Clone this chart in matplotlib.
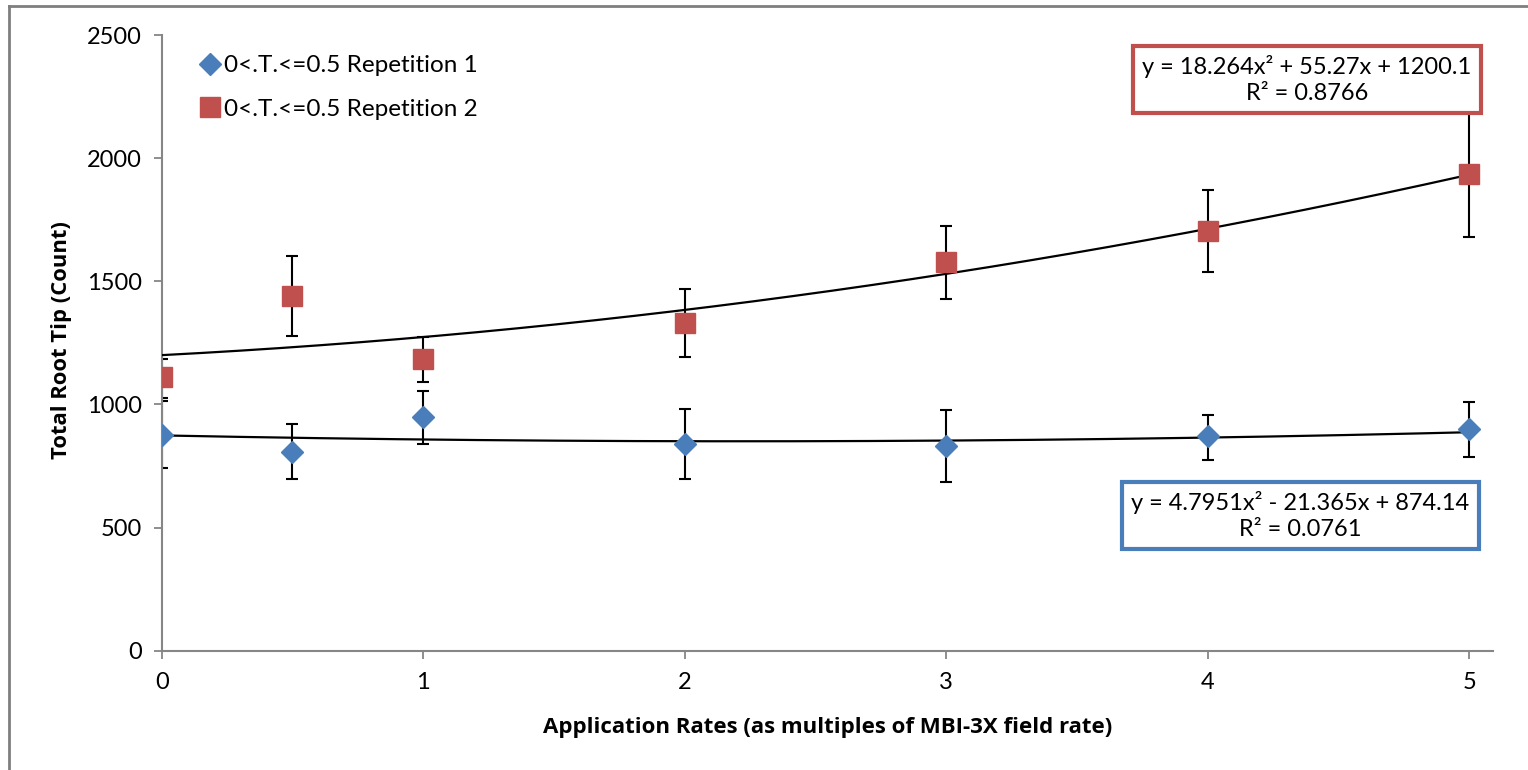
import numpy as np
import matplotlib
matplotlib.use("Agg")
import matplotlib.pyplot as plt
from matplotlib.lines import Line2D

# ---- data ----
x_rates = [0, 0.5, 1, 2, 3, 4, 5]

rep1_mean = [876, 808, 949, 839, 831, 870, 900]
rep1_upper = [1012, 920, 1053, 981, 976, 958, 1011]
rep1_lower = [741, 697, 840, 697, 683, 775, 785]

rep2_mean = [1110, 1439, 1184, 1330, 1578, 1706, 1936]
rep2_upper = [1186, 1602, 1275, 1468, 1726, 1870, 2193]
rep2_lower = [1026, 1276, 1091, 1191, 1427, 1539, 1679]

rep1_coef = [4.7951, -21.365, 874.14]
rep2_coef = [18.264, 55.27, 1200.1]

label1 = "0<.T.<=0.5 Repetition 1"
label2 = "0<.T.<=0.5 Repetition 2"
eq1 = "y = 4.7951x\u00b2 - 21.365x + 874.14\nR\u00b2 = 0.0761"
eq2 = "y = 18.264x\u00b2 + 55.27x + 1200.1\nR\u00b2 = 0.8766"

y_ticks = [0, 500, 1000, 1500, 2000, 2500]
x_ticks = [0, 1, 2, 3, 4, 5]

blue = "#4a7ebb"
red = "#c0504d"
grey = "#868686"

plt.rcParams['font.family'] = ['Lato', 'DejaVu Sans']

W, H = 1528, 770
fig = plt.figure(figsize=(W / 100, H / 100), dpi=100)
ax = fig.add_axes([161.7 / W, 1 - 650.7 / H, (1493 - 161.7) / W, (650.7 - 35) / H])

# frame lines of the figure border
fig.add_artist(Line2D([8.5 / W, 8.5 / W], [0, 1 - 6 / H], transform=fig.transFigure,
                      color="#7f7f7f", lw=2))
fig.add_artist(Line2D([8.5 / W, 1], [1 - 6 / H, 1 - 6 / H], transform=fig.transFigure,
                      color="#7f7f7f", lw=2))

xs = np.array(x_rates)
m1 = np.array(rep1_mean); m2 = np.array(rep2_mean)
err1 = [m1 - np.array(rep1_lower), np.array(rep1_upper) - m1]
err2 = [m2 - np.array(rep2_lower), np.array(rep2_upper) - m2]

# trendlines
xx = np.linspace(0, 5, 200)
ax.plot(xx, np.polyval(rep1_coef, xx), color="black", lw=1.6, zorder=3)
ax.plot(xx, np.polyval(rep2_coef, xx), color="black", lw=1.6, zorder=3)

ax.errorbar(xs, m1, yerr=err1, fmt="none", ecolor="black", elinewidth=1.5,
            capsize=4.3, capthick=1.5, zorder=2)
ax.errorbar(xs, m2, yerr=err2, fmt="none", ecolor="black", elinewidth=1.5,
            capsize=4.3, capthick=1.5, zorder=2)

ax.plot(xs, m1, linestyle="none", marker="D", markersize=11, color=blue,
        markeredgecolor=blue, zorder=4, label=label1)
ax.plot(xs, m2, linestyle="none", marker="s", markersize=14, color=red,
        markeredgecolor=red, zorder=4, label=label2)

ax.set_xlim(0, 5.09)
ax.set_ylim(0, 2500)
ax.set_xticks(x_ticks)
ax.set_yticks(y_ticks)
ax.tick_params(axis="both", colors=grey, labelcolor="black", labelsize=17,
               length=6, width=1.3, direction="out")
ax.tick_params(axis="x", pad=9.5)
ax.tick_params(axis="y", pad=8.5)
for s in ["top", "right"]:
    ax.spines[s].set_visible(False)
for s in ["left", "bottom"]:
    ax.spines[s].set_color(grey)
    ax.spines[s].set_linewidth(1.5)

ax.set_xlabel("Application Rates (as multiples of MBI-3X field rate)", fontsize=16,
              fontweight="bold", family=["Open Sans", "DejaVu Sans"], va="center")
ax.xaxis.set_label_coords(0.5, (650.7 - 727) / 615.7)
ax.set_ylabel("Total Root Tip (Count)", fontsize=15.8, fontweight="bold",
              family=["Open Sans", "DejaVu Sans"], va="center", ha="center")
ax.yaxis.set_label_coords((62 - 161.7) / 1331.3, (650.7 - 340) / 615.7)

leg = ax.legend(loc="upper left", bbox_to_anchor=(201 / W, 1 - 55 / H),
                bbox_transform=fig.transFigure, frameon=False, fontsize=17.5,
                handlelength=0.7, handletextpad=0.25, labelspacing=0.93,
                borderaxespad=0.0, borderpad=0.0)

ax.text(0.8603, 0.9279, eq2, transform=ax.transAxes, ha="center", va="center",
        fontsize=17, linespacing=1.3, zorder=6,
        bbox=dict(boxstyle="square,pad=0.38", facecolor="white", edgecolor=red, linewidth=3))
ax.text(0.8554, 0.219, eq1, transform=ax.transAxes, ha="center", va="center",
        fontsize=17, linespacing=1.3, zorder=6,
        bbox=dict(boxstyle="square,pad=0.38", facecolor="white", edgecolor=blue, linewidth=3))

fig.savefig("out.png", dpi=100)
